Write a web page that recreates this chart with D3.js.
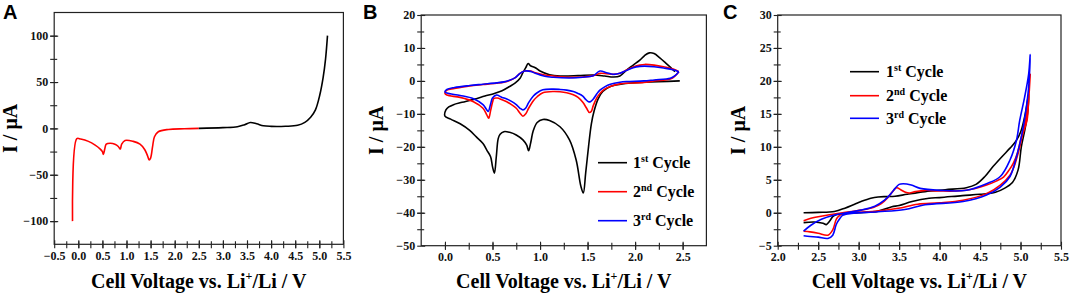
<!DOCTYPE html>
<html><head><meta charset="utf-8">
<script src="https://cdn.jsdelivr.net/npm/d3@7"></script>
<style>html,body{margin:0;padding:0;background:#fff;}svg{display:block;}</style>
</head><body>
<script>
// ---------- DATA ----------
// Panel A (LSV)
const aRedV = [-0.12,-0.03,0.05,0.21,0.35,0.45,0.5,0.52,0.55,0.58,0.66,0.76,0.83,0.87,0.9,0.97,1.14,1.28,1.38,1.44,1.47,1.5,1.54,1.58,1.66,1.87,2.2,2.5];
const aRedI = [-100,-11,-11.5,-14,-18,-22,-25,-28,-22,-17,-16,-17,-19.5,-22.3,-17,-13,-14,-17,-23,-30,-34,-32,-20,-9,-3.6,-1.1,-0.4,0];
const aBlkV = [2.5,3.0,3.3,3.45,3.57,3.7,3.84,4.0,4.3,4.55,4.7,4.82,4.92,5.01,5.08,5.13,5.17];
const aBlkI = [0,0.8,1.8,4,6.4,5,2.8,2.2,2.3,3.3,6.5,12,20,36,55,75,100];

// Panel B (CV 0-2.5 V)
const b1V = [2.47,2.1,1.9,1.74,1.66,1.61,1.57,1.54,1.51,1.48,1.455,1.43,1.38,1.31,1.21,1.1,1.03,0.97,0.93,0.9,0.88,0.86,0.82,0.75,0.68,0.62,0.58,0.56,0.54,0.52,0.5,0.48,0.44,0.4,0.33,0.26,0.16,0.06,0.0,
  0.01,0.04,0.09,0.18,0.3,0.42,0.52,0.6,0.68,0.74,0.79,0.82,0.85,0.875,0.9,0.95,1.0,1.1,1.21,1.4,1.56,1.68,1.77,1.84,1.91,1.98,2.05,2.1,2.15,2.2,2.26,2.32,2.37,2.42];
const b1I = [0,-0.4,-0.8,-1.7,-3.2,-5.5,-9,-13,-20,-28,-34,-32,-24,-17.9,-13.9,-12,-11.7,-12.6,-15,-19,-21.2,-19.5,-17.9,-16.4,-15.6,-15.4,-16.2,-17.5,-23,-28,-26,-23,-21,-19,-17,-15,-13,-11.6,-10.7,
  -8.8,-7.9,-7.2,-6.5,-5.6,-4.6,-3.8,-3,-1.7,-0.6,0.8,2.5,4,5.3,4.6,4,3.0,1.9,1.5,1.6,1.8,1.5,1.2,1.5,3.3,4.8,6.3,7.7,8.5,8.3,7.0,5.5,4.2,2.8];
const b2V = [2.46,2.42,2.37,2.2,2.09,1.91,1.84,1.74,1.68,1.63,1.6,1.56,1.54,1.52,1.49,1.45,1.4,1.35,1.28,1.21,1.14,1.03,0.97,0.93,0.88,0.85,0.82,0.79,0.75,0.7,0.65,0.6,0.55,0.515,0.5,0.48,0.46,0.44,0.4,0.3,0.16,0.02,0.0,
  0.02,0.1,0.26,0.4,0.54,0.62,0.68,0.74,0.79,0.84,0.9,0.95,1.05,1.14,1.31,1.45,1.56,1.63,1.7,1.77,1.84,1.91,1.98,2.05,2.1,2.2,2.3,2.4,2.46];
const b2I = [2.8,1.5,0.6,0,-0.5,-0.7,-0.9,-1.7,-2.5,-3.8,-5,-7.5,-9.2,-9.6,-8.3,-6.5,-5,-4.2,-3.6,-3.3,-3.2,-3.6,-4.8,-6,-8.3,-10,-10.7,-9.8,-8.3,-7.2,-6.3,-5.7,-5.2,-5.3,-6.5,-9,-11.3,-10.3,-8.3,-6.3,-5,-4.3,-3.8,
  -2.8,-2.3,-1.5,-1.1,-0.7,-0.4,0.1,1.0,2.3,3.0,3.0,2.5,1.8,1.5,1.1,1.2,1.6,2.3,2.2,2.0,2.3,3.3,4.2,4.8,5.0,4.8,4.3,3.6,2.8];
const b3V = [2.46,2.42,2.37,2.2,2.09,1.91,1.84,1.74,1.68,1.63,1.6,1.56,1.53,1.51,1.48,1.45,1.4,1.35,1.28,1.21,1.14,1.03,0.97,0.93,0.88,0.85,0.82,0.79,0.75,0.7,0.65,0.6,0.54,0.5,0.48,0.455,0.44,0.4,0.3,0.16,0.02,0.0,
  0.02,0.1,0.26,0.4,0.54,0.62,0.68,0.74,0.79,0.84,0.9,0.95,1.05,1.14,1.31,1.45,1.56,1.63,1.7,1.77,1.84,1.91,1.98,2.05,2.1,2.2,2.3,2.4,2.46];
const b3I = [2.8,1.6,0.8,0.3,0,-0.2,-0.4,-1.0,-1.8,-2.8,-3.8,-5.5,-6.3,-6.3,-5.6,-4.6,-3.8,-3.2,-2.8,-2.6,-2.5,-2.7,-3.6,-4.6,-6.6,-8.2,-8.8,-8.3,-7.2,-6.2,-5.5,-5,-4.3,-5.2,-7,-9.3,-8.8,-7.2,-5.4,-4.4,-3.7,-3.3,
  -2.6,-2.0,-1.4,-1.0,-0.6,-0.3,0.2,1.0,2.3,3.0,2.9,2.3,1.4,1.1,0.9,1.1,1.6,3.0,2.5,2.0,2.3,3.2,4.0,4.4,4.5,4.3,3.9,3.4,2.8];

// Panel C (CV 2.3-5.1 V)
const c1V = [2.32,2.5,2.7,2.83,2.95,3.03,3.15,3.24,3.35,3.45,3.6,3.82,4.07,4.33,4.45,4.56,4.66,4.77,4.87,4.94,5.0,5.05,5.08,5.1,
  5.09,5.06,5.01,4.97,4.9,4.8,4.69,4.5,4.28,4.0,3.87,3.66,3.5,3.41,3.24,3.0,2.85,2.72,2.68,2.64,2.6,2.56,2.45,2.32];
const c1I = [0,0.05,0.2,0.7,1.3,1.7,2.2,2.4,2.45,2.5,2.8,3.2,3.5,3.8,4.3,5.5,7,8.5,9.8,10.8,12.2,14.5,16.5,18,
  15.5,13,10,6.5,4.6,3.7,3.1,2.8,2.6,2.3,2.2,1.7,1.1,0.9,0.25,0.0,-0.1,-0.3,-0.6,-1.3,-1.8,-1.6,-1.4,-1.5];
const c2V = [2.32,2.41,2.5,2.62,2.8,3.03,3.18,3.28,3.36,3.42,3.47,3.52,3.58,3.63,3.7,3.82,4.0,4.33,4.58,4.7,4.79,4.86,4.91,4.96,5.0,5.06,5.1,5.12,
  5.1,5.08,5.03,4.97,4.92,4.87,4.75,4.58,4.29,4.0,3.73,3.49,3.24,2.91,2.8,2.77,2.74,2.72,2.68,2.62,2.5,2.4,2.32];
const c2I = [-1.2,-0.85,-0.6,-0.35,0,0.4,0.8,1.4,2.3,3.2,3.8,3.5,3.1,3.0,3.2,3.4,3.3,3.4,4.2,4.8,5.4,6.5,7.5,9,11,14,17.5,21,
  17,14,12,9,7,5.7,4.2,2.9,1.9,1.5,1.3,0.67,0.25,0,-0.2,-0.35,-0.7,-1.1,-2.6,-3.4,-3.1,-2.9,-2.8];
const c3V = [2.32,2.41,2.54,2.7,2.85,3.03,3.2,3.32,3.4,3.45,3.5,3.55,3.65,3.76,4.0,4.33,4.58,4.75,4.87,4.95,4.99,5.05,5.1,5.12,
  5.1,5.06,5.01,4.95,4.87,4.75,4.58,4.29,3.82,3.57,3.24,2.91,2.8,2.77,2.74,2.72,2.68,2.62,2.5,2.4,2.32];
const c3I = [-2.8,-1.9,-1.0,-0.35,0,0.4,1.0,1.9,2.9,3.7,4.3,4.4,4.2,3.7,3.4,3.4,4.4,5.5,8.0,11,14,17.5,21,24,
  19,15,11.5,8.5,5.5,3.9,2.7,1.7,1.2,0.5,0.15,-0.1,-0.4,-0.85,-1.4,-1.9,-3.4,-3.9,-3.7,-3.6,-3.5];

// Tick values
const aXTicks = [-0.5,0,0.5,1,1.5,2,2.5,3,3.5,4,4.5,5,5.5];
const aYTicks = [-100,-50,0,50,100];
const bXTicks = [0,0.5,1,1.5,2,2.5];
const bYTicks = [-50,-40,-30,-20,-10,0,10,20];
const cXTicks = [2,2.5,3,3.5,4,4.5,5,5.5];
const cYTicks = [-5,0,5,10,15,20,25,30];
const cycleNums = ["1","2","3"];
const cycleSups = ["st","nd","rd"];
const cycleColors = ["#000000","#ff0000","#0000ff"];

// ---------- DRAW ----------
const W = 1072, H = 293;
const svg = d3.select("body").append("svg").attr("width", W).attr("height", H);
const SERIF = "'Liberation Serif','Times New Roman',serif";
const SANS = "'Liberation Sans',Arial,sans-serif";

function panel(cfg) {
  const x = d3.scaleLinear().domain(cfg.xd).range([cfg.left, cfg.right]);
  const y = d3.scaleLinear().domain(cfg.yd).range([cfg.bottom, cfg.top]);
  const g = svg.append("g");
  const fmtX = d => d3.format(".1f")(d);
  const minorX = d3.range(cfg.xd[0], cfg.xd[1] + 1e-9, cfg.xMinor).filter(v => v > cfg.xd[0] + 1e-6 && v < cfg.xd[1] - 1e-6);
  const minorY = d3.range(cfg.yd[0], cfg.yd[1] + 1e-9, cfg.yMinor).filter(v => v > cfg.yd[0] + 1e-6 && v < cfg.yd[1] - 1e-6);

  function styleAxis(sel) {
    sel.select(".domain").remove();
    sel.selectAll("line").attr("stroke", "#222").attr("stroke-width", 1.1);
    sel.selectAll("text").attr("font-family", SERIF).attr("font-weight", "bold").attr("font-size", 12).attr("fill", "#111");
  }
  [4, -3].forEach(s => {
    g.append("g").attr("transform", `translate(0,${cfg.bottom})`)
      .call(d3.axisBottom(x).tickValues(minorX).tickSize(s).tickSizeOuter(0).tickFormat(""))
      .call(styleAxis);
    g.append("g").attr("transform", `translate(${cfg.left},0)`)
      .call(d3.axisLeft(y).tickValues(minorY).tickSize(s).tickSizeOuter(0).tickFormat(""))
      .call(styleAxis);
  });
  g.append("g").attr("transform", `translate(0,${cfg.bottom})`)
    .call(d3.axisBottom(x).tickValues(cfg.xTicks).tickSize(4).tickPadding(3).tickSizeOuter(0).tickFormat(fmtX))
    .call(styleAxis);
  g.append("g").attr("transform", `translate(0,${cfg.bottom})`)
    .call(d3.axisBottom(x).tickValues(cfg.xTicks).tickSize(-4).tickSizeOuter(0).tickFormat(""))
    .call(styleAxis);
  g.append("g").attr("transform", `translate(${cfg.left},0)`)
    .call(d3.axisLeft(y).tickValues(cfg.yTicks).tickSize(4).tickPadding(2).tickSizeOuter(0).tickFormat(d3.format("d")))
    .call(styleAxis);
  g.append("g").attr("transform", `translate(${cfg.left},0)`)
    .call(d3.axisLeft(y).tickValues(cfg.yTicks).tickSize(-4).tickSizeOuter(0).tickFormat(""))
    .call(styleAxis);

  g.append("rect").attr("x", cfg.left).attr("y", cfg.top)
    .attr("width", cfg.right - cfg.left).attr("height", cfg.bottom - cfg.top)
    .attr("fill", "none").attr("stroke", "#222").attr("stroke-width", 1.2);

  const line = d3.line().x(d => x(d[0])).y(d => y(d[1])).curve(d3.curveCatmullRom.alpha(0.5));
  cfg.series.forEach(s => {
    const pts = s.v.map((v, i) => [v, s.i[i]]);
    g.append("path").attr("d", line(pts)).attr("fill", "none")
      .attr("stroke", s.color).attr("stroke-width", 1.6).attr("stroke-linejoin", "round");
  });

  svg.append("text").attr("x", cfg.letterX).attr("y", 19).text(cfg.letter)
    .attr("font-family", SANS).attr("font-weight", "bold").attr("font-size", 20);

  svg.append("text").attr("transform", `translate(${cfg.yTitleX},${(cfg.top + cfg.bottom) / 2}) rotate(-90)`)
    .attr("text-anchor", "middle").attr("dominant-baseline", "middle")
    .attr("font-family", SERIF).attr("font-weight", "bold").attr("font-size", 20)
    .text("I / μA");
  const xt = svg.append("text").attr("x", (cfg.left + cfg.right) / 2).attr("y", 288)
    .attr("text-anchor", "middle")
    .attr("font-family", SERIF).attr("font-weight", "bold").attr("font-size", 20);
  xt.append("tspan").text("Cell Voltage vs. Li");
  xt.append("tspan").attr("font-size", 12).attr("dy", -8).text("+");
  xt.append("tspan").attr("dy", 8).text("/Li / V");

  if (cfg.legend) {
    const L = cfg.legend;
    cycleNums.forEach((n, k) => {
      const yy = L.ys[k];
      svg.append("line").attr("x1", L.x0).attr("x2", L.x1).attr("y1", yy).attr("y2", yy)
        .attr("stroke", cycleColors[k]).attr("stroke-width", 1.6);
      const t = svg.append("text").attr("x", L.tx).attr("y", yy + 5.5)
        .attr("font-family", SERIF).attr("font-weight", "bold").attr("font-size", 16);
      t.append("tspan").text(n);
      t.append("tspan").attr("font-size", 10).attr("dy", -6).text(cycleSups[k]);
      t.append("tspan").attr("dy", 6).text(" Cycle");
    });
  }
}

panel({
  left: 54.2, right: 343.4, top: 12.5, bottom: 244.3,
  xd: [-0.5, 5.5], yd: [-125, 125], xTicks: aXTicks, yTicks: aYTicks, xMinor: 0.25, yMinor: 25,
  letter: "A", letterX: 3, yTitleX: 12.5,
  series: [{v: aRedV, i: aRedI, color: "#ff0000"}, {v: aBlkV, i: aBlkI, color: "#000000"}]
});
panel({
  left: 421.2, right: 706.4, top: 15, bottom: 245.7,
  xd: [-0.25, 2.75], yd: [-50, 20], xTicks: bXTicks, yTicks: bYTicks, xMinor: 0.25, yMinor: 5,
  letter: "B", letterX: 363, yTitleX: 378,
  series: [{v: b1V, i: b1I, color: "#000000"}, {v: b2V, i: b2I, color: "#ff0000"}, {v: b3V, i: b3I, color: "#0000ff"}],
  legend: {x0: 598, x1: 627, tx: 633, ys: [162.7, 191.7, 220.7]}
});
panel({
  left: 777.7, right: 1061, top: 15, bottom: 245.7,
  xd: [2, 5.5], yd: [-5, 30], xTicks: cXTicks, yTicks: cYTicks, xMinor: 0.25, yMinor: 2.5,
  letter: "C", letterX: 723, yTitleX: 740,
  series: [{v: c1V, i: c1I, color: "#000000"}, {v: c2V, i: c2I, color: "#ff0000"}, {v: c3V, i: c3I, color: "#0000ff"}],
  legend: {x0: 850, x1: 879, tx: 886, ys: [71.7, 95.7, 118.3]}
});
</script>
</body></html>
